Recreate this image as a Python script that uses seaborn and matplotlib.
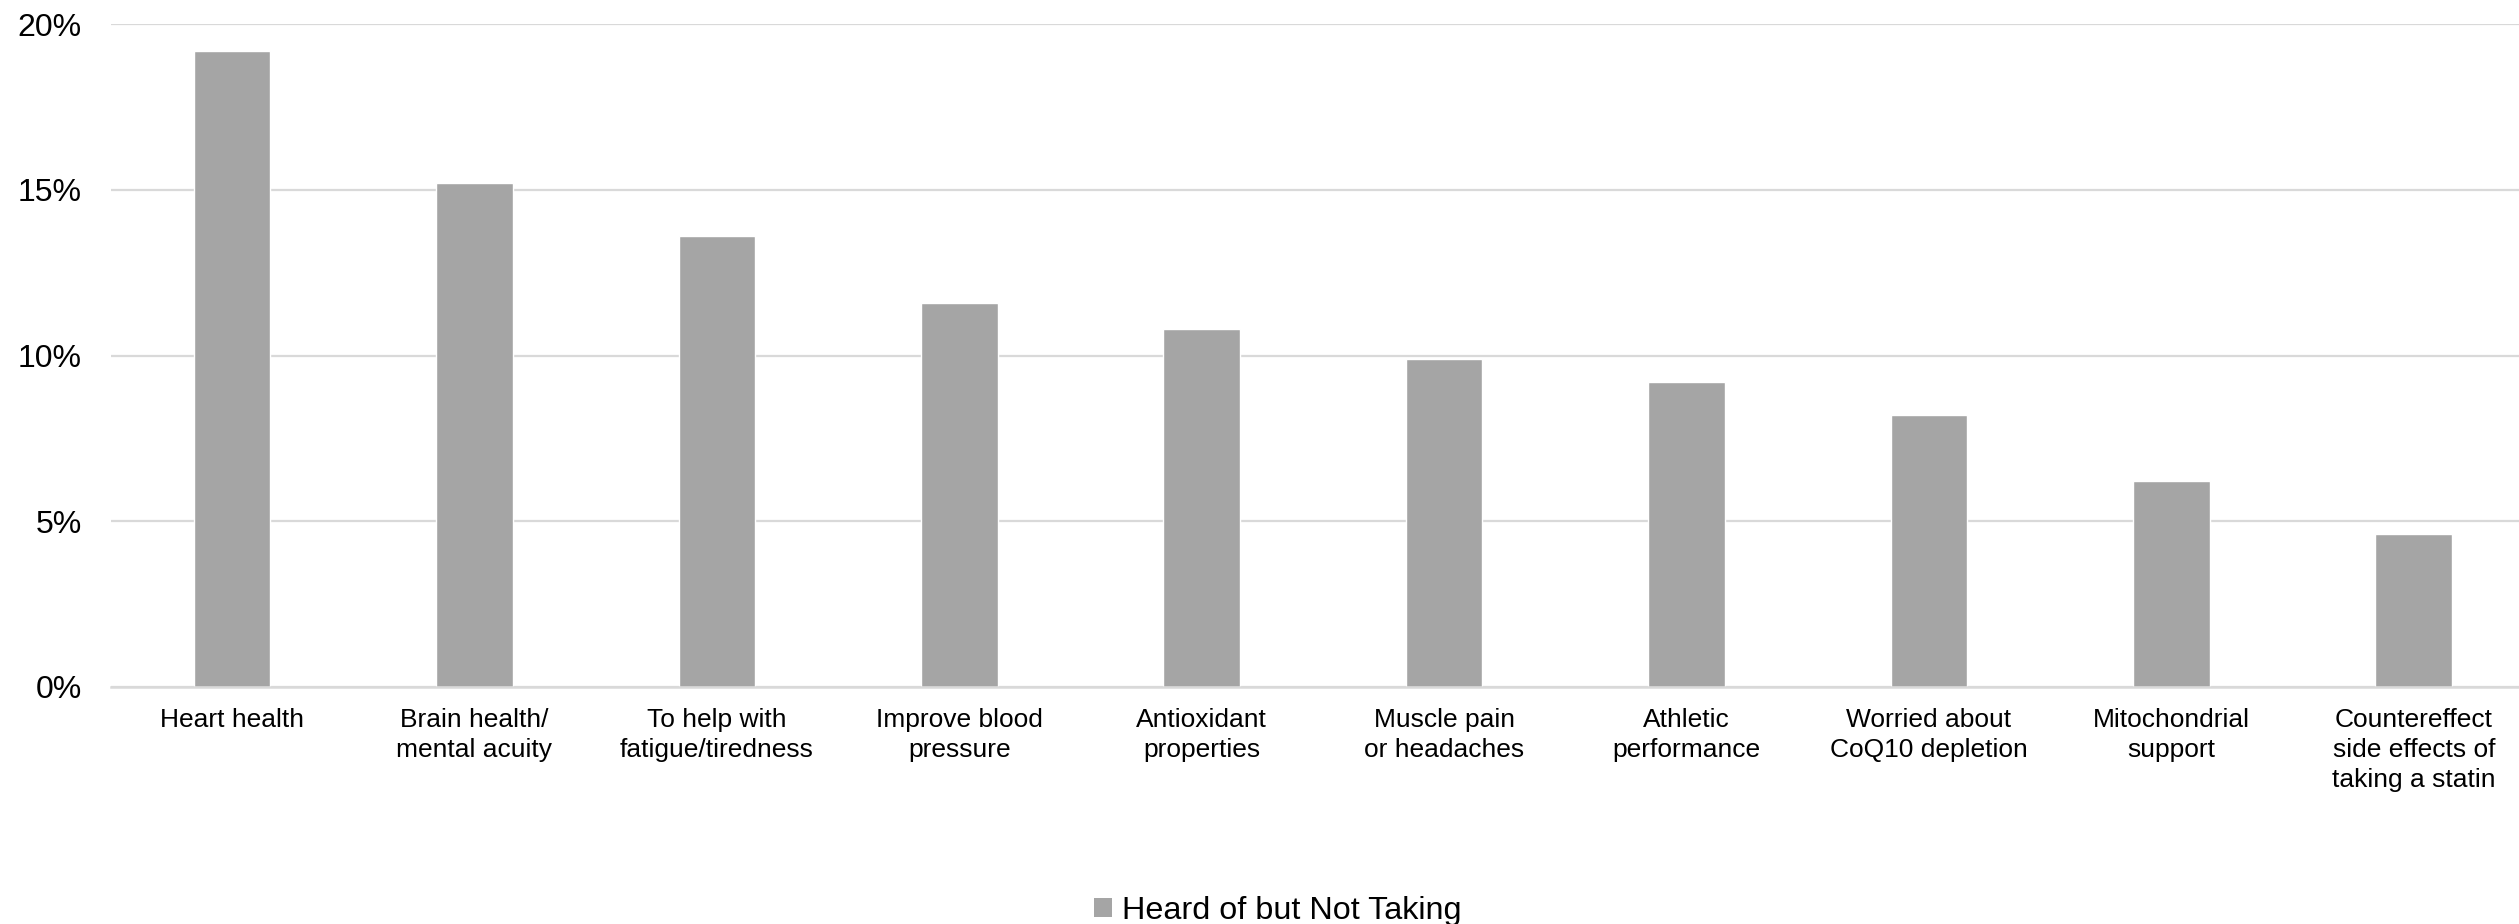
import matplotlib
matplotlib.use("Agg")
import matplotlib.pyplot as plt
import matplotlib.ticker as mticker
from matplotlib.patches import Patch
import seaborn as sns
import pandas as pd

# Reasons for interest in CoQ10 among people who have heard of it but are not taking it
categories = [
    "Heart health",
    "Brain health/\nmental acuity",
    "To help with\nfatigue/tiredness",
    "Improve blood\npressure",
    "Antioxidant\nproperties",
    "Muscle pain\nor headaches",
    "Athletic\nperformance",
    "Worried about\nCoQ10 depletion",
    "Mitochondrial\nsupport",
    "Countereffect\nside effects of\ntaking a statin",
]
heard_not_taking = [19.2, 15.2, 13.6, 11.6, 10.8, 9.9, 9.2, 8.2, 6.2, 4.6]
series_name = "Heard of but Not Taking"
y_ticks = [0, 5, 10, 15, 20]

df = pd.DataFrame({"reason": categories, "share": heard_not_taking})

sns.set_theme(style="white")
plt.rcParams["font.family"] = ["Liberation Sans", "DejaVu Sans"]

bar_color = "#a5a5a5"
grid_color = "#d9d9d9"

W, H = 2519, 924
left_px, right_px, top_px, bottom_px = 110.8, 2535.0, 24.3, 686.7

fig = plt.figure(figsize=(W / 100, H / 100), dpi=100)
ax = fig.add_axes([left_px / W, 1 - bottom_px / H,
                   (right_px - left_px) / W, (bottom_px - top_px) / H])

sns.barplot(data=df, x="reason", y="share", color=bar_color, width=0.316,
            saturation=1, ax=ax)

ax.set_xlim(-0.5, len(categories) - 0.5)
ax.set_ylim(0, 20)
ax.set_yticks(y_ticks)
ax.yaxis.set_major_formatter(mticker.FuncFormatter(lambda v, _: f"{v:.0f}%"))
ax.set_xlabel("")
ax.set_ylabel("")

ax.set_axisbelow(True)
ax.yaxis.grid(True, color=grid_color, linewidth=1.6)
ax.xaxis.grid(False)
for side in ["top", "right", "left"]:
    ax.spines[side].set_visible(False)
ax.spines["bottom"].set_color(grid_color)
ax.spines["bottom"].set_linewidth(1.8)

ax.tick_params(axis="y", length=0, pad=21, labelsize=23, labelcolor="black")
ax.tick_params(axis="x", length=0, pad=15, labelsize=19, labelcolor="black")
for lbl in ax.get_xticklabels():
    lbl.set_linespacing(1.33)
    lbl.set_horizontalalignment("center")

handles = [Patch(facecolor=bar_color, edgecolor="none", label=series_name)]
fig.legend(handles=handles, loc="center", bbox_to_anchor=(1278 / W, 1 - 911 / H),
           frameon=False, fontsize=23.3, handlelength=0.55, handleheight=0.55,
           handletextpad=0.3, borderpad=0, labelcolor="black")

fig.savefig("out.png", dpi=100, facecolor="white")
